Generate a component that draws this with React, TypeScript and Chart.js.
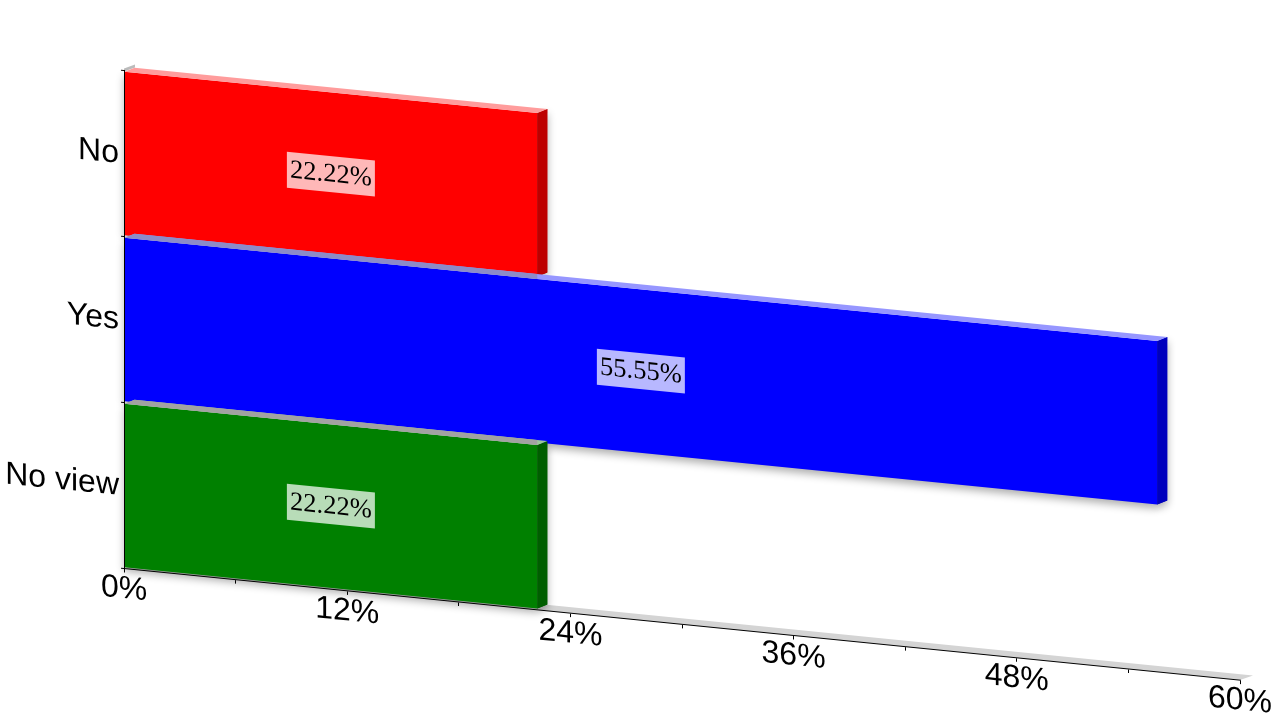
import React, { useEffect, useRef } from "react";
import { Chart, registerables } from "chart.js";

Chart.register(...registerables);

const categories = ["No", "Yes", "No view"];
const shares = [22.22, 55.55, 22.22];
const axisMax = 60;
const tickStep = 6;
const labelledTicks = [0, 12, 24, 36, 48, 60];

const frontColors = ["#ff0000", "#0000ff", "#008000"];
const sideColors = ["#bd0000", "#0000bd", "#005e00"];
const topColors = ["#ff9c9c", "#9696ff", "#9cc89c"];
const coveredTopColors = ["#ff9c9c", "#8c8cc8", "#a2a2a2"];

const SHEAR = 0.1;
const ORIGIN_X = 124;
const DEPTH_X = 10;
const DEPTH_Y = -5;

function poly(ctx: CanvasRenderingContext2D, pts: number[][], fill: string) {
  ctx.beginPath();
  pts.forEach((p, i) => (i ? ctx.lineTo(p[0], p[1]) : ctx.moveTo(p[0], p[1])));
  ctx.closePath();
  ctx.fillStyle = fill;
  ctx.fill();
}

const setShadow = (ctx: CanvasRenderingContext2D) => {
  ctx.shadowColor = "rgba(0,0,0,0.33)";
  ctx.shadowBlur = 9;
  ctx.shadowOffsetX = 0;
  ctx.shadowOffsetY = 4;
};

const perspectivePlugin = {
  id: "perspective",
  beforeDraw(chart: any) {
    const ctx = chart.ctx;
    ctx.save();
    ctx.transform(1, SHEAR, 0, 1, 0, -SHEAR * ORIGIN_X);
  },
  beforeDatasetsDraw(chart: any) {
    const ctx = chart.ctx;
    const { left, right, top, bottom } = chart.chartArea;
    poly(
      ctx,
      [
        [left, bottom],
        [left + 13, bottom - 6],
        [right + 13, bottom - 6],
        [right, bottom],
      ],
      "#d4d4d4"
    );
    poly(
      ctx,
      [
        [left, top - 2],
        [left + 11, top - 7],
        [left + 11, top - 4],
        [left, top + 1],
      ],
      "#bcbcbc"
    );
    ctx.save();
    setShadow(ctx);
    chart.getDatasetMeta(0).data.forEach((bar: any, i: number) => {
      const h = bar.height / 2;
      poly(
        ctx,
        [
          [bar.x, bar.y - h],
          [bar.x + DEPTH_X, bar.y - h + DEPTH_Y],
          [bar.x + DEPTH_X, bar.y + h + DEPTH_Y],
          [bar.x, bar.y + h],
        ],
        sideColors[i]
      );
    });
  },
  afterDatasetsDraw(chart: any) {
    const ctx = chart.ctx;
    ctx.restore();
    const bars = chart.getDatasetMeta(0).data;
    bars.forEach((bar: any, i: number) => {
      const h = bar.height / 2;
      const t = bar.y - h;
      const x0 = bar.base;
      poly(
        ctx,
        [
          [bar.x, bar.y - h],
          [bar.x + DEPTH_X, t + DEPTH_Y],
          [bar.x + DEPTH_X, bar.y + h + DEPTH_Y],
          [bar.x, bar.y + h],
        ],
        sideColors[i]
      );
      poly(
        ctx,
        [
          [x0, t],
          [x0 + DEPTH_X, t + DEPTH_Y],
          [bar.x + DEPTH_X, t + DEPTH_Y],
          [bar.x, t],
        ],
        topColors[i]
      );
      if (i > 0) {
        const end = Math.min(bars[i - 1].x, bar.x);
        poly(
          ctx,
          [
            [x0, t],
            [x0 + DEPTH_X, t + DEPTH_Y],
            [end, t + DEPTH_Y],
            [end, t],
          ],
          coveredTopColors[i]
        );
      }
    });
    bars.forEach((bar: any, i: number) => {
      const text = shares[i] + "%";
      const cx = (bar.base + bar.x) / 2;
      ctx.fillStyle = "rgba(255,255,255,0.72)";
      ctx.fillRect(cx - 44, bar.y - 18, 88, 36);
      ctx.fillStyle = "#000000";
      ctx.font = "26.5px 'Liberation Serif'";
      ctx.textAlign = "center";
      ctx.textBaseline = "middle";
      ctx.fillText(text, cx, bar.y + 0.5);
    });
  },
  afterDraw(chart: any) {
    chart.ctx.restore();
  },
};

export default function App() {
  const ref = useRef<HTMLCanvasElement>(null);
  useEffect(() => {
    const chart = new Chart(ref.current!, {
      type: "bar",
      data: {
        labels: categories,
        datasets: [
          {
            data: shares,
            backgroundColor: frontColors,
            barPercentage: 1,
            categoryPercentage: 0.985,
            borderWidth: 0,
            clip: false,
          } as any,
        ],
      },
      options: {
        indexAxis: "y",
        animation: false,
        responsive: false,
        layout: { padding: { top: 70.5, right: 40, bottom: 0, left: 0 } },
        plugins: { legend: { display: false }, tooltip: { enabled: false } },
        scales: {
          x: {
            min: 0,
            max: axisMax,
            afterFit: (s: any) => {
              s.height = 151.5;
            },
            grid: { drawOnChartArea: false, tickLength: 4, color: "#000000" },
            border: { color: "#000000", z: 1 },
            ticks: {
              stepSize: tickStep,
              autoSkip: false,
              maxRotation: 0,
              padding: -2.5,
              color: "#000000",
              font: { family: "'Liberation Sans'", size: 32 },
              callback: (v: any) => (labelledTicks.includes(v) ? v + "%" : ""),
            },
          },
          y: {
            afterFit: (s: any) => {
              s.width = 124;
            },
            grid: { drawOnChartArea: false, tickLength: 3, color: "#000000" },
            border: { color: "#000000", z: 1 },
            ticks: {
              padding: 2,
              color: "#000000",
              labelOffset: 1,
              font: { family: "'Liberation Sans'", size: 32 },
            },
          },
        },
      },
      plugins: [perspectivePlugin],
    } as any);
    return () => chart.destroy();
  }, []);
  return (
    <div style={{ position: "fixed", left: 0, top: 0, width: 1280, height: 720, background: "#fff" }}>
      <canvas ref={ref} width={1280} height={720} style={{ display: "block" }} />
    </div>
  );
}
